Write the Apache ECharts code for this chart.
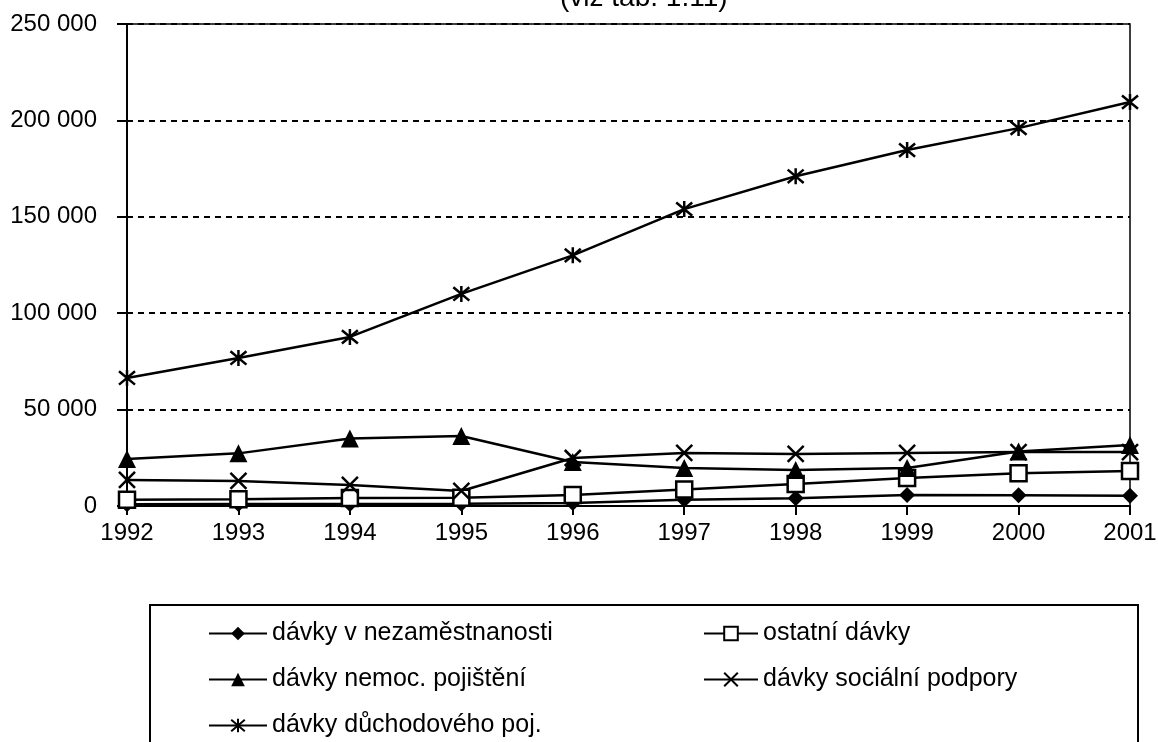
<!DOCTYPE html>
<html>
<head>
<meta charset="utf-8">
<script src="https://cdn.jsdelivr.net/npm/echarts@6/dist/echarts.min.js"></script>
<style>
html, body { margin: 0; padding: 0; background: #fff; }
#main { width: 1158px; height: 742px; }
</style>
</head>
<body>
<div id="main"></div>
<script>
// roky
var years = ['1992', '1993', '1994', '1995', '1996', '1997', '1998', '1999', '2000', '2001'];
// hodnoty jednotlivých řad
var nezamestnanost = [900, 1000, 1100, 1200, 1600, 3200, 4000, 5700, 5600, 5300];
var ostatni = [3300, 3500, 4100, 4300, 5700, 8600, 11400, 14500, 17000, 18100];
var nemoc = [24400, 27300, 35000, 36300, 22800, 19700, 18700, 19700, 28300, 31600];
var socialni = [13500, 13000, 10900, 7800, 24900, 27500, 27000, 27500, 28000, 28000];
var duchod = [66400, 76800, 87700, 110000, 130000, 154000, 171000, 184600, 196000, 209500];

var names = ['dávky v nezaměstnanosti', 'ostatní dávky', 'dávky nemoc. pojištění',
  'dávky sociální podpory', 'dávky důchodového poj.'];

var FONT = '"Liberation Sans", Arial, sans-serif';
var X_PATH = 'path://M0,0L10,10M10,0L0,10';
var STAR_PATH = 'path://M0,1L10,11M10,1L0,11M5,0L5,12';

function fmt(v) {
  return String(v).replace(/\B(?=(\d{3})+(?!\d))/g, ' ');
}

function serie(name, data, symbol, size, fill) {
  return {
    name: name,
    type: 'line',
    data: data,
    symbol: symbol,
    symbolSize: size,
    showAllSymbol: true,
    animation: false,
    lineStyle: { color: '#000', width: 2.5 },
    itemStyle: { color: fill, borderColor: '#000', borderWidth: fill === '#fff' || fill === 'none' ? 2.5 : 0 }
  };
}

var myChart = echarts.init(document.getElementById('main'));

var option = {
  backgroundColor: '#fff',
  animation: false,
  textStyle: { fontFamily: FONT, color: '#000' },
  title: {
    text: '(viz tab. 1.11)',
    left: 555,
    top: -21,
    textStyle: { fontFamily: FONT, fontSize: 28, fontWeight: 'normal', color: '#000' }
  },
  grid: {
    left: 127, right: 28, top: 24, bottom: 236,
    containLabel: false,
    outerBoundsMode: 'none',
    show: true, borderColor: '#000', borderWidth: 1.5
  },
  xAxis: {
    type: 'category',
    data: years,
    boundaryGap: false,
    axisLine: { lineStyle: { color: '#000', width: 2 } },
    axisTick: { show: true, length: 9, lineStyle: { color: '#000', width: 2 } },
    axisLabel: { color: '#000', fontFamily: FONT, fontSize: 24, margin: 15 }
  },
  yAxis: {
    type: 'value',
    min: 0, max: 250000, interval: 50000,
    axisLine: { show: true, lineStyle: { color: '#000', width: 2 } },
    axisTick: { show: true, length: 10, lineStyle: { color: '#000', width: 2 } },
    axisLabel: { color: '#000', fontFamily: FONT, fontSize: 24, margin: 30, formatter: fmt },
    splitLine: { show: true, lineStyle: { color: '#000', width: 2, type: [6, 5] } }
  },
  legend: [{
    orient: 'vertical',
    left: 208, top: 621, height: 200, padding: 0,
    itemWidth: 58, itemHeight: 17, itemGap: 21,
    data: [names[0], names[2], names[4]],
    textStyle: { fontFamily: FONT, fontSize: 25, color: '#000', lineHeight: 25 }
  }, {
    orient: 'vertical',
    left: 703, top: 621, height: 200, padding: 0,
    itemWidth: 54, itemHeight: 17, itemGap: 21,
    data: [names[1], names[3]],
    textStyle: { fontFamily: FONT, fontSize: 25, color: '#000', lineHeight: 25 }
  }],
  graphic: [{
    type: 'rect',
    z: -1,
    shape: { x: 150, y: 605, width: 988, height: 160 },
    style: { fill: '#fff', stroke: '#000', lineWidth: 2 }
  }],
  series: [
    serie(names[0], nezamestnanost, 'diamond', 16, '#000'),
    serie(names[1], ostatni, 'rect', 16, '#fff'),
    serie(names[2], nemoc, 'triangle', 18, '#000'),
    serie(names[3], socialni, X_PATH, 16, 'none'),
    serie(names[4], duchod, STAR_PATH, 16, 'none')
  ]
};

myChart.setOption(option);
</script>
</body>
</html>
